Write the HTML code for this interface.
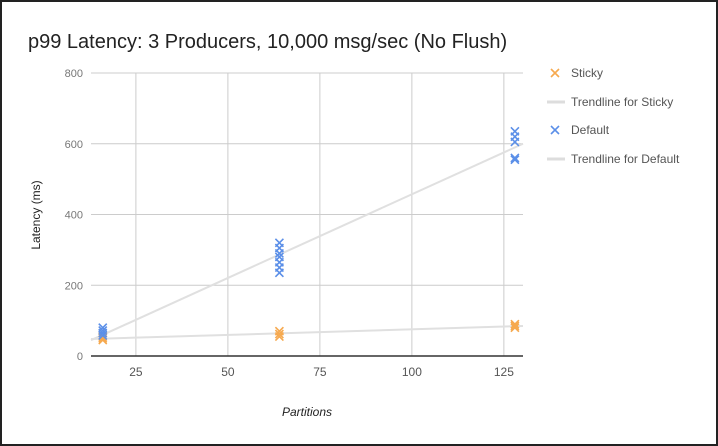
<!DOCTYPE html>
<html><head><meta charset="utf-8"><style>
body{margin:0;background:#fff}
#wrap{position:relative;width:714px;height:442px;border:2px solid #222;background:#fff;overflow:hidden}
svg text{font-family:"Liberation Sans",sans-serif}
</style></head><body>
<div id="wrap">
<svg id="chart" width="714" height="442"></svg>
</div>
<script>
const stickyX=[16,16,16,64,64,64,128,128,128];
const stickyY=[45,50,55,55,62,70,80,85,90];
const defaultX=[16,16,16,16,64,64,64,64,64,64,64,128,128,128,128,128];
const defaultY=[58,65,72,80,235,250,265,280,290,305,320,555,560,605,620,635];
const xTicks=[25,50,75,100,125];
const yTicks=[0,200,400,600,800];
const legendLabels=["Sticky","Trendline for Sticky","Default","Trendline for Default"];

const NS="http://www.w3.org/2000/svg";
const svg=document.getElementById('chart');
const OX=-2,OY=-2;
const xMin=12.8,xMax=130.2,L=91+OX,R=523+OX;
const yMin=0,yMax=800,B=356+OY,T=73+OY;
const sx=v=>L+(v-xMin)/(xMax-xMin)*(R-L);
const sy=v=>B-(v-yMin)/(yMax-yMin)*(B-T);
function mk(tag,attrs,txt){const e=document.createElementNS(NS,tag);for(const k in attrs)e.setAttribute(k,attrs[k]);if(txt!==undefined)e.textContent=txt;svg.appendChild(e);return e;}

let t=mk('text',{x:28+OX,y:48+OY,'font-size':'20','fill':'#222'},'p99 Latency: 3 Producers, 10,000 msg/sec (No Flush)');



yTicks.forEach(v=>{
 const g=mk('line',{x1:L,x2:R,y1:sy(v),y2:sy(v),stroke:'#ccc','stroke-width':1});
 
 
 const l=mk('text',{x:L-8,y:sy(v)+4,'font-size':'11','fill':'#777','text-anchor':'end'},String(v));
 
 
});
xTicks.forEach(v=>{
 const g=mk('line',{x1:sx(v),x2:sx(v),y1:T,y2:B,stroke:'#ccc','stroke-width':1});
 
 
 const l=mk('text',{x:sx(v),y:B+20,'font-size':'12','fill':'#555','text-anchor':'middle'},String(v));
 
 
});
let ax=mk('line',{x1:L,x2:R,y1:B,y2:B,stroke:'#333','stroke-width':1.5});



let yt=mk('text',{x:0,y:0,'font-size':'12','fill':'#222','text-anchor':'middle',transform:`translate(${40+OX},${215+OY}) rotate(-90)`},'Latency (ms)');


let xt=mk('text',{x:(L+R)/2,y:416+OY,'font-size':'12','fill':'#222','text-anchor':'middle','font-style':'italic'},'Partitions');



function fit(xs,ys){const n=xs.length;let mx=0,my=0;xs.forEach((x,i)=>{mx+=x;my+=ys[i];});mx/=n;my/=n;let num=0,den=0;xs.forEach((x,i)=>{num+=(x-mx)*(ys[i]-my);den+=(x-mx)*(x-mx);});const m=num/den;return [m,my-m*mx];}
function trend(xs,ys,name){const [m,b]=fit(xs,ys);const e=mk('line',{x1:L,y1:sy(m*xMin+b),x2:R,y2:sy(m*xMax+b),stroke:'#e0e0e0','stroke-width':2});}
trend(stickyX,stickyY,'trendline-sticky');
trend(defaultX,defaultY,'trendline-default');

function cross(cx,cy,color,name){const s=4;const p=mk('path',{d:`M${cx-s} ${cy-s}L${cx+s} ${cy+s}M${cx+s} ${cy-s}L${cx-s} ${cy+s}`,stroke:color,'stroke-width':1.6,fill:'none'});}
stickyX.forEach((x,i)=>cross(sx(x),sy(stickyY[i]),'#f6a94f','point-sticky'));
defaultX.forEach((x,i)=>cross(sx(x),sy(defaultY[i]),'#5b8fe8','point-default'));

const legY=[73,102,130,159];
const legType=['x-orange','line','x-blue','line'];
legendLabels.forEach((lab,i)=>{
 const y=legY[i]+OY;
 if(legType[i]==='line'){const e=mk('line',{x1:547+OX,x2:565+OX,y1:y,y2:y,stroke:'#ddd','stroke-width':3});}
 else cross(555+OX,y,legType[i]==='x-orange'?'#f6a94f':'#5b8fe8','legend-marker');
 const tx=mk('text',{x:571+OX,y:y+4,'font-size':'12','fill':'#555'},lab);
 
 
});
</script>
</body></html>
